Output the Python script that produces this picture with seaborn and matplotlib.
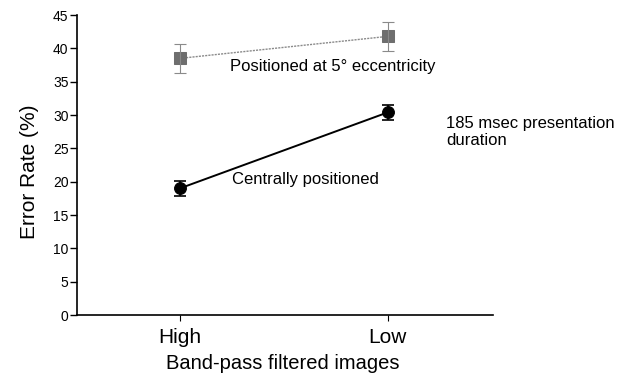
import matplotlib
matplotlib.use("Agg")
import matplotlib.pyplot as plt
import seaborn as sns
import pandas as pd

categories = ["High", "Low"]
eccentric_rate = [38.5, 41.8]
eccentric_err = [2.2, 2.2]
central_rate = [19.0, 30.4]
central_err = [1.1, 1.1]
yticks = [0, 5, 10, 15, 20, 25, 30, 35, 40, 45]

sns.set_style("ticks")
plt.rcParams['font.family'] = ['Liberation Sans', 'DejaVu Sans']
plt.rcParams.update({"text.color": "black", "axes.labelcolor": "black",
                     "xtick.color": "black", "ytick.color": "black"})

fig = plt.figure(figsize=(6.35, 3.76), dpi=100)
ax = fig.add_axes([0.121, 0.162, 0.655, 0.798])

df_ecc = pd.DataFrame({"band": categories, "rate": eccentric_rate})
df_cen = pd.DataFrame({"band": categories, "rate": central_rate})

sns.lineplot(data=df_ecc, x="band", y="rate", ax=ax, color="#8a8a8a",
             linestyle=(0, (1.5, 0.8)), linewidth=1.0, marker="s",
             markersize=8, markerfacecolor="#6e6e6e", markeredgecolor="#6e6e6e")
ax.errorbar(categories, eccentric_rate, yerr=eccentric_err, fmt="none",
            ecolor="#8a8a8a", elinewidth=0.8, capsize=4, capthick=0.8,
            linestyle=":")
sns.lineplot(data=df_cen, x="band", y="rate", ax=ax, color="black",
             linewidth=1.4, marker="o", markersize=8.5,
             markerfacecolor="black", markeredgecolor="black")
ax.errorbar(categories, central_rate, yerr=central_err, fmt="none",
            ecolor="black", elinewidth=1.2, capsize=4, capthick=1.2)

ax.set_xlim(-0.495, 1.505)
ax.set_ylim(0, 45)
ax.set_yticks(yticks)
ax.set_yticklabels([str(t) for t in yticks], fontsize=10)
ax.set_xticks([0, 1])
ax.set_xticklabels(categories, fontsize=15)
ax.tick_params(axis="y", direction="out", length=5, width=1, pad=1)
ax.tick_params(axis="x", direction="out", length=4, width=0.8, pad=5)
sns.despine(ax=ax)
for s in ("left", "bottom"):
    ax.spines[s].set_linewidth(1.2)
    ax.spines[s].set_color("black")

ax.set_ylabel("Error Rate (%)", fontsize=15)
ax.set_xlabel("Band-pass filtered images", fontsize=14.5)
ax.yaxis.set_label_coords(-0.092, 0.477)
ax.xaxis.set_label_coords(0.495, -0.13)

ax.text(0.24, 37.3, "Positioned at 5° eccentricity", fontsize=12,
        va="center", ha="left")
ax.text(0.25, 20.3, "Centrally positioned", fontsize=12,
        va="center", ha="left")
fig.text(446 / 635, 1 - 132 / 376, "185 msec presentation\nduration",
         fontsize=12, va="center", ha="left", linespacing=1.1)

fig.savefig("out.png", dpi=100)
